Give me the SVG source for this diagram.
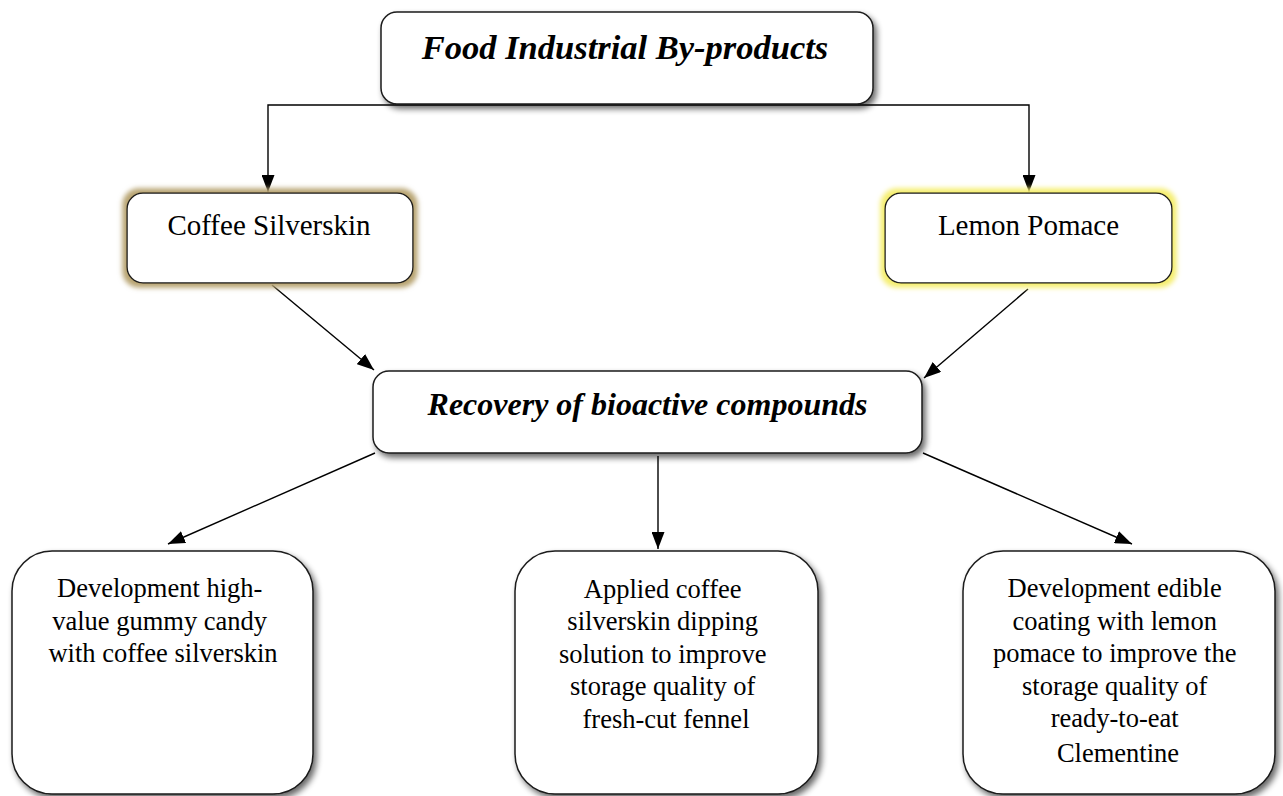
<svg xmlns="http://www.w3.org/2000/svg" width="1283" height="796" viewBox="0 0 1283 796">
<style>
.box{fill:#fff;stroke:#1a1a1a;stroke-width:1.5}
.t{font-family:"Liberation Serif","Times New Roman",serif;fill:#000;text-anchor:middle}
.bi{font-weight:bold;font-style:italic}
.con{fill:none;stroke:#000;stroke-width:1.4}
</style>
<defs>
<filter id="sh" x="-10%" y="-10%" width="125%" height="130%">
<feGaussianBlur in="SourceAlpha" stdDeviation="3"/>
<feOffset dx="3" dy="4" result="b"/>
<feComponentTransfer><feFuncA type="linear" slope="0.6"/></feComponentTransfer>
<feMerge><feMergeNode/><feMergeNode in="SourceGraphic"/></feMerge>
</filter>
<filter id="glowTan" x="-10%" y="-15%" width="120%" height="135%">
<feMorphology in="SourceAlpha" operator="dilate" radius="4" result="d"/>
<feGaussianBlur in="d" stdDeviation="2.5" result="g"/>
<feFlood flood-color="#b8a472"/>
<feComposite in2="g" operator="in"/>
<feMerge><feMergeNode/><feMergeNode in="SourceGraphic"/></feMerge>
</filter>
<filter id="glowYel" x="-10%" y="-15%" width="120%" height="135%">
<feMorphology in="SourceAlpha" operator="dilate" radius="4" result="d"/>
<feGaussianBlur in="d" stdDeviation="2.5" result="g"/>
<feFlood flood-color="#f5ee70"/>
<feComposite in2="g" operator="in"/>
<feMerge><feMergeNode/><feMergeNode in="SourceGraphic"/></feMerge>
</filter>
<marker id="ah" viewBox="0 0 17 13" refX="17" refY="6.5" markerWidth="17" markerHeight="13" markerUnits="userSpaceOnUse" orient="auto">
<path d="M0,0 L17,6.5 L0,13 Z" fill="#000"/>
</marker>
</defs>

<g id="connectors">
<path class="con" d="M640,105 H268 V192" marker-end="url(#ah)"/>
<path class="con" d="M640,105 H1029 V192" marker-end="url(#ah)"/>
<path class="con" d="M272,285 L374,370" marker-end="url(#ah)"/>
<path class="con" d="M1028,289 L924,378" marker-end="url(#ah)"/>
<path class="con" d="M375,453 L168,544" marker-end="url(#ah)"/>
<path class="con" d="M658,456 V549" marker-end="url(#ah)"/>
<path class="con" d="M923,453 L1132,544" marker-end="url(#ah)"/>
</g>

<g id="node-food">
<rect class="box" x="381" y="12" width="492" height="92" rx="16" filter="url(#sh)"/>
<text class="t bi" x="625" y="59" font-size="34.5">Food Industrial By-products</text>
</g>

<g id="node-coffee">
<rect class="box" x="127" y="193" width="286" height="90" rx="16" filter="url(#glowTan)"/>
<text class="t" x="269" y="235" font-size="29">Coffee Silverskin</text>
</g>

<g id="node-lemon">
<rect class="box" x="885" y="193" width="287" height="90" rx="16" filter="url(#glowYel)"/>
<text class="t" x="1028.5" y="235" font-size="29">Lemon Pomace</text>
</g>

<g id="node-recovery">
<rect class="box" x="373" y="371" width="549" height="82" rx="16" filter="url(#sh)"/>
<text class="t bi" x="647.5" y="415" font-size="32">Recovery of bioactive compounds</text>
</g>

<g id="node-gummy">
<rect class="box" x="12" y="551" width="301" height="243" rx="40" filter="url(#sh)"/>
<text class="t" font-size="26.5">
<tspan x="163" y="597">Development high-</tspan>
<tspan x="163" y="630">value gummy candy</tspan>
<tspan x="163" y="662">with coffee silverskin</tspan>
</text>
</g>

<g id="node-fennel">
<rect class="box" x="515" y="551" width="303" height="243" rx="40" filter="url(#sh)"/>
<text class="t" font-size="26.5">
<tspan x="666" y="598">Applied coffee</tspan>
<tspan x="666" y="630">silverskin dipping</tspan>
<tspan x="666" y="663">solution to improve</tspan>
<tspan x="666" y="695">storage quality of</tspan>
<tspan x="666" y="728">fresh-cut fennel</tspan>
</text>
</g>

<g id="node-clementine">
<rect class="box" x="963" y="551" width="312" height="243" rx="40" filter="url(#sh)"/>
<text class="t" font-size="26.5">
<tspan x="1118" y="597">Development edible</tspan>
<tspan x="1118" y="630">coating with lemon</tspan>
<tspan x="1118" y="662">pomace to improve the</tspan>
<tspan x="1118" y="695">storage quality of</tspan>
<tspan x="1118" y="727">ready-to-eat</tspan>
<tspan x="1118" y="762">Clementine</tspan>
</text>
</g>
</svg>
